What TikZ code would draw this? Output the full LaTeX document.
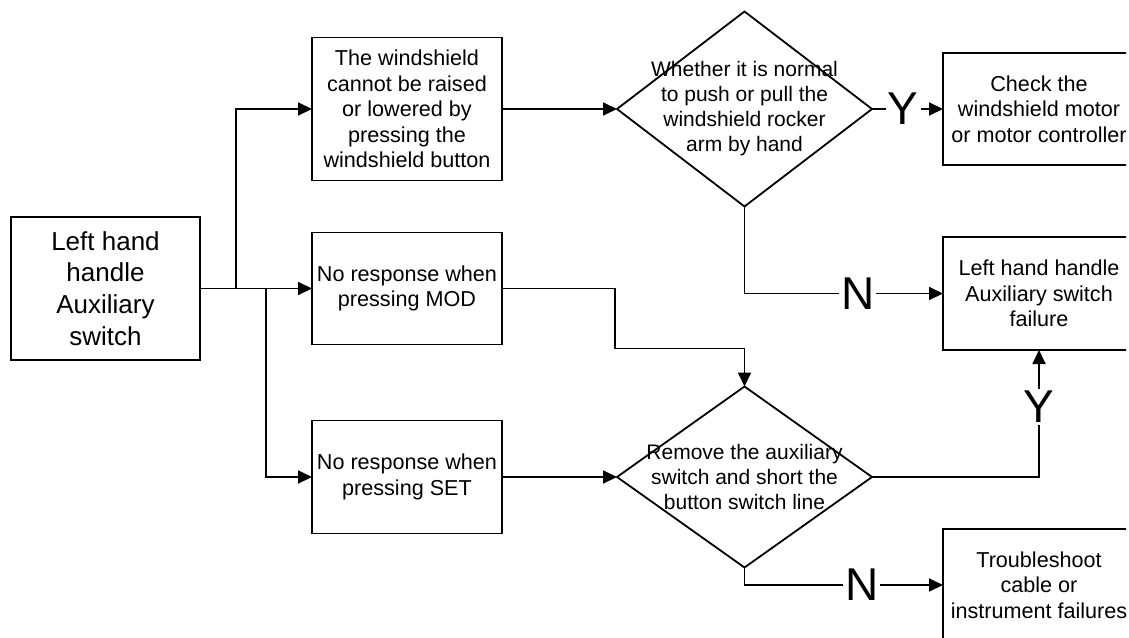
\documentclass[tikz,border=0pt]{standalone}
\usepackage{fontspec}
\setmainfont{Liberation Sans}
\usetikzlibrary{arrows.meta,positioning,shapes.geometric}
\tikzset{
  stepbox/.style={draw, line width=0.9pt, minimum width=95pt,
    minimum height=56pt, align=center, inner sep=1pt, outer sep=0pt,
    font=\fontsize{10.8}{12.8}\selectfont},
  srcbox/.style={stepbox, minimum width=94.5pt, minimum height=71.5pt,
    font=\fontsize{13}{15.8}\selectfont},
  endbox/.style={stepbox, minimum width=96pt},
  decision/.style={draw, diamond, line width=0.9pt, minimum width=127.5pt,
    minimum height=97.5pt, inner sep=0pt, outer sep=0pt},
  dtext/.style={align=center, inner sep=0pt,
    font=\fontsize{10.5}{12.5}\selectfont},
  yn/.style={fill=white, inner sep=1pt, font=\fontsize{23}{23}\selectfont},
  arrw/.style={-{Triangle[length=7pt,width=6.5pt]}, line width=0.9pt},
}
\begin{document}
\begin{tikzpicture}
  \useasboundingbox (0,0) rectangle (564.5pt,-318.5pt);
  \clip (0,0) rectangle (563pt,-318.5pt);

  % Source
  \node[srcbox] (src) at (52.75pt,-144.25pt)
    {Left hand\\handle\\Auxiliary\\switch};

  % Symptoms
  \node[stepbox, right=56pt of src] (mod)
    {No response when\\pressing MOD};
  \node[stepbox, minimum height=71.5pt, above=26pt of mod] (wsb)
    {The windshield\\cannot be raised\\or lowered by\\pressing the\\windshield button};
  \node[stepbox, minimum height=56.5pt, below=38pt of mod] (set)
    {No response when\\pressing SET};

  % Checks
  \node[decision, right=57.5pt of wsb] (q1) {};
  \node[dtext] (q1text) at (q1)
    {Whether it is normal\\to push or pull the\\windshield rocker\\arm by hand};
  \node[decision, minimum height=90.5pt, right=57.5pt of set] (q2) {};
  \node[dtext] (q2text) at (q2)
    {Remove the auxiliary\\switch and short the\\button switch line};

  % Results
  \node[endbox, right=35.5pt of q1] (motor)
    {Check the\\windshield motor\\or motor controller};
  \node[endbox, minimum height=56.5pt, below=36pt of motor] (fail)
    {Left hand handle\\Auxiliary switch\\failure};
  \node[endbox, below=89.5pt of fail] (cable)
    {Troubleshoot\\cable or\\instrument failures};

  % Arrows
  \draw[arrw] (src.east) -- (mod.west);
  \draw[arrw] (src.east) -- ++(18pt,0) |- (wsb.west);
  \draw[arrw] (src.east) -- ++(33pt,0) |- (set.west);
  \draw[arrw] (wsb.east) -- (q1.west);
  \draw[arrw] (set.east) -- (q2.west);
  \draw[arrw] (mod.east) -- ++(56.5pt,0) -- ++(0,-30pt) -| (q2.north);
  \draw[arrw] (q1.east) -- node[yn, pos=0.44] {Y} (motor.west);
  \draw[arrw] (q1.south) |- node[yn, pos=0.785] {N} (fail.west);
  \draw[arrw] (q2.east) -| node[yn, pos=0.775] {Y} (fail.south);
  \draw[arrw] (q2.south) |- node[yn, pos=0.795] {N} (cable.west);
\end{tikzpicture}
\end{document}
